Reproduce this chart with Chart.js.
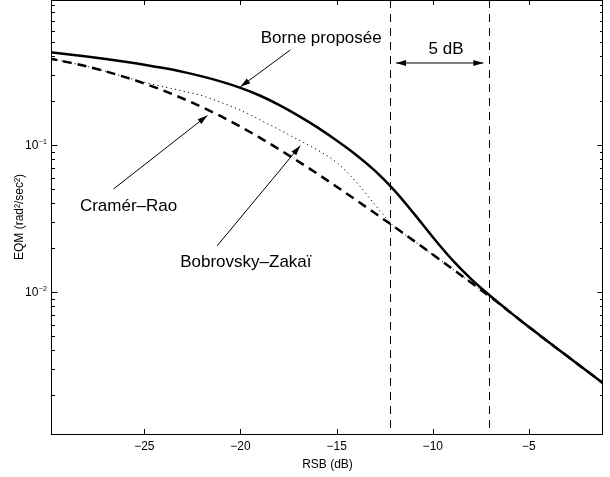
<!DOCTYPE html>
<html>
<head>
<meta charset="utf-8">
<script src="https://cdn.jsdelivr.net/npm/chart.js@4"></script>
<style>
html,body{margin:0;padding:0;background:#fff;}
#wrap{width:610px;height:477px;}
canvas{display:block;}
</style>
</head>
<body>
<div id="wrap"><canvas id="c" width="610" height="477"></canvas></div>
<script>
// ---- data ----
const snrDb = [-30,-29,-28,-27,-26,-25,-24,-23,-22,-21,-20,-19,-18,-17,-16,-15,-14,-13,-12,-11,-10,-9,-8,-7,-6,-5,-4,-3,-2,-1];
const borneProposee = [0.4285,0.4140,0.3994,0.3846,0.3687,0.3518,0.3335,0.3142,0.2929,0.2700,0.2449,0.2171,0.1874,0.1583,0.1317,0.1073,0.0859,0.0666,0.0491,0.0344,0.02363,0.01661,0.01224,0.00938,0.00732,0.00577,0.00459,0.00365,0.00291,0.00232];
const cramerRao = [0.3895,0.3663,0.3425,0.3167,0.2897,0.2621,0.2343,0.2071,0.1810,0.1563,0.1332,0.1122,0.0936,0.0774,0.0637,0.0520,0.0423,0.0343,0.02774,0.02235,0.01797,0.01442,0.01155,0.00924,0.00732,0.00577,0.00459,0.00365,0.00291,0.00232];
const bobrovskyZakai = [0.3895,0.3663,0.3425,0.3167,0.2897,0.2670,0.2492,0.2330,0.2165,0.1946,0.1722,0.1486,0.1275,0.1085,0.0925,0.0760,0.0564,0.0391,0.02774,0.02235,0.01797,0.01442,0.01155,0.00924,0.00732,0.00577,0.00459,0.00365,0.00291,0.00232];
const thresholdsDb = [-12.2, -7.05];
const xTickValues = [-25,-20,-15,-10,-5];
const yMajorTicks = [0.01, 0.1];
const yMinorTicks = [0.002,0.003,0.004,0.005,0.006,0.007,0.008,0.009,0.02,0.03,0.04,0.05,0.06,0.07,0.08,0.09,0.2,0.3,0.4,0.5,0.6,0.7,0.8,0.9];
const xRange = [-29.8, -1.15];
const yRange = [0.001081, 0.9691];

// ---- annotations (data coordinates) ----
const arrowNotes = [
  { from: [-17.41, 0.4428], to: [-20.0, 0.249], both: false },
  { from: [-26.6, 0.0502], to: [-21.72, 0.1588], both: false },
  { from: [-21.22, 0.02056], to: [-16.89, 0.0989], both: false },
  { from: [-11.91, 0.3613], to: [-7.37, 0.3613], both: true }
];
const textNotes = [
  { text: 'Borne proposée', at: [-15.8, 0.4918] },
  { text: '5 dB', at: [-9.31, 0.4140] },
  { text: 'Cramér–Rao', at: [-25.82, 0.03573] },
  { text: 'Bobrovsky–Zakaï', at: [-19.72, 0.01486] }
];

const FONT = '"Liberation Sans", Arial, Helvetica, sans-serif';
const pts = ys => snrDb.map((x, i) => ({ x: x, y: ys[i] }));
const vline = xv => [{ x: xv, y: yRange[1] }, { x: xv, y: yRange[0] }];

function arrowHead(ctx, x1, y1, x2, y2, len, half) {
  const a = Math.atan2(y2 - y1, x2 - x1);
  const c = Math.cos(a), s = Math.sin(a);
  ctx.beginPath();
  ctx.moveTo(x2, y2);
  ctx.lineTo(x2 - len * c + half * s, y2 - len * s - half * c);
  ctx.lineTo(x2 - len * c - half * s, y2 - len * s + half * c);
  ctx.closePath();
  ctx.fill();
}

const matlabFrame = {
  id: 'matlabFrame',
  afterDatasetsDraw(chart) {
    const { ctx, chartArea: a, scales: { x, y } } = chart;
    ctx.save();
    ctx.strokeStyle = '#000';
    ctx.fillStyle = '#000';
    ctx.setLineDash([]);

    // arrows
    ctx.lineWidth = 1;
    arrowNotes.forEach(n => {
      const x1 = x.getPixelForValue(n.from[0]), y1 = y.getPixelForValue(n.from[1]);
      const x2 = x.getPixelForValue(n.to[0]), y2 = y.getPixelForValue(n.to[1]);
      ctx.beginPath(); ctx.moveTo(x1, y1); ctx.lineTo(x2, y2); ctx.stroke();
      arrowHead(ctx, x1, y1, x2, y2, 10, 3);
      if (n.both) arrowHead(ctx, x2, y2, x1, y1, 10, 3);
    });

    // texts
    ctx.font = '17px ' + FONT;
    ctx.textAlign = 'center';
    ctx.textBaseline = 'alphabetic';
    textNotes.forEach(t => {
      ctx.fillText(t.text, x.getPixelForValue(t.at[0]), y.getPixelForValue(t.at[1]));
    });

    // frame
    ctx.lineWidth = 1;
    ctx.strokeRect(a.left - 0.5, a.top + 0.5, a.right - a.left, a.bottom - a.top);

    // x ticks (bottom + top), inward
    ctx.beginPath();
    xTickValues.forEach(v => {
      const px = Math.round(x.getPixelForValue(v)) + 0.5;
      ctx.moveTo(px, a.bottom); ctx.lineTo(px, a.bottom - 5);
      ctx.moveTo(px, a.top); ctx.lineTo(px, a.top + 5);
    });
    // y ticks (left + right), inward
    yMajorTicks.forEach(v => {
      const py = Math.round(y.getPixelForValue(v)) + 0.5;
      ctx.moveTo(a.left, py); ctx.lineTo(a.left + 5.5, py);
      ctx.moveTo(a.right, py); ctx.lineTo(a.right - 5.5, py);
    });
    yMinorTicks.forEach(v => {
      const py = Math.round(y.getPixelForValue(v)) + 0.5;
      ctx.moveTo(a.left, py); ctx.lineTo(a.left + 3, py);
      ctx.moveTo(a.right, py); ctx.lineTo(a.right - 3, py);
    });
    ctx.stroke();

    // y tick labels 10^n
    yMajorTicks.forEach(v => {
      const py = y.getPixelForValue(v);
      const e = Math.round(Math.log10(v));
      ctx.font = '12px ' + FONT;
      ctx.textAlign = 'right';
      ctx.fillText('10', a.left - 13.7, py + 4.3);
      ctx.font = '7px ' + FONT;
      ctx.textAlign = 'left';
      ctx.fillText((e < 0 ? '−' : '') + Math.abs(e), a.left - 13.2, py - 0.7);
    });
    ctx.restore();
  }
};

new Chart(document.getElementById('c'), {
  type: 'line',
  data: {
    datasets: [
      { label: 'Borne proposée', data: pts(borneProposee), borderColor: '#000', borderWidth: 2.5,
        pointRadius: 0, cubicInterpolationMode: 'monotone', order: 0 },
      { label: 'Cramér–Rao', data: pts(cramerRao), borderColor: '#000', borderWidth: 2.5,
        borderDash: [9, 6], pointRadius: 0, cubicInterpolationMode: 'monotone', order: 1 },
      { label: 'Bobrovsky–Zakaï', data: pts(bobrovskyZakai), borderColor: '#000', borderWidth: 1,
        borderDash: [1.2, 3.3], pointRadius: 0, cubicInterpolationMode: 'monotone', order: 2 },
      { label: 'seuil 1', data: vline(thresholdsDb[0]), borderColor: '#000', borderWidth: 1,
        borderDash: [8, 6], pointRadius: 0, tension: 0, order: 3 },
      { label: 'seuil 2', data: vline(thresholdsDb[1]), borderColor: '#000', borderWidth: 1,
        borderDash: [8, 6], pointRadius: 0, tension: 0, order: 3 }
    ]
  },
  options: {
    responsive: false,
    animation: false,
    devicePixelRatio: 1,
    layout: { padding: { top: 0, right: 7, bottom: 0, left: 0 } },
    plugins: { legend: { display: false }, tooltip: { enabled: false } },
    scales: {
      x: {
        type: 'linear',
        min: xRange[0], max: xRange[1],
        grid: { display: false, drawTicks: false },
        border: { display: false },
        afterBuildTicks: s => { s.ticks = xTickValues.map(v => ({ value: v })); },
        afterFit: s => { s.height = 43; },
        ticks: {
          color: '#000', padding: 5.5, maxRotation: 0, autoSkip: false,
          font: { family: FONT, size: 12 },
          callback: v => (v < 0 ? '−' : '') + Math.abs(v)
        },
        title: { display: true, text: 'RSB (dB)', color: '#000',
          font: { family: FONT, size: 12 }, padding: { top: 0, bottom: 5 } }
      },
      y: {
        type: 'logarithmic',
        min: yRange[0], max: yRange[1],
        grid: { display: false, drawTicks: false },
        border: { display: false },
        afterBuildTicks: s => { s.ticks = yMajorTicks.concat(yMinorTicks).sort((a, b) => a - b).map(v => ({ value: v })); },
        afterFit: s => { s.width = 52; },
        ticks: { display: false },
        title: { display: true, text: 'EQM (rad²/sec²)', color: '#000',
          font: { family: FONT, size: 12 }, padding: { top: 12.8, bottom: 0 } }
      }
    }
  },
  plugins: [matlabFrame]
});
</script>
</body>
</html>
